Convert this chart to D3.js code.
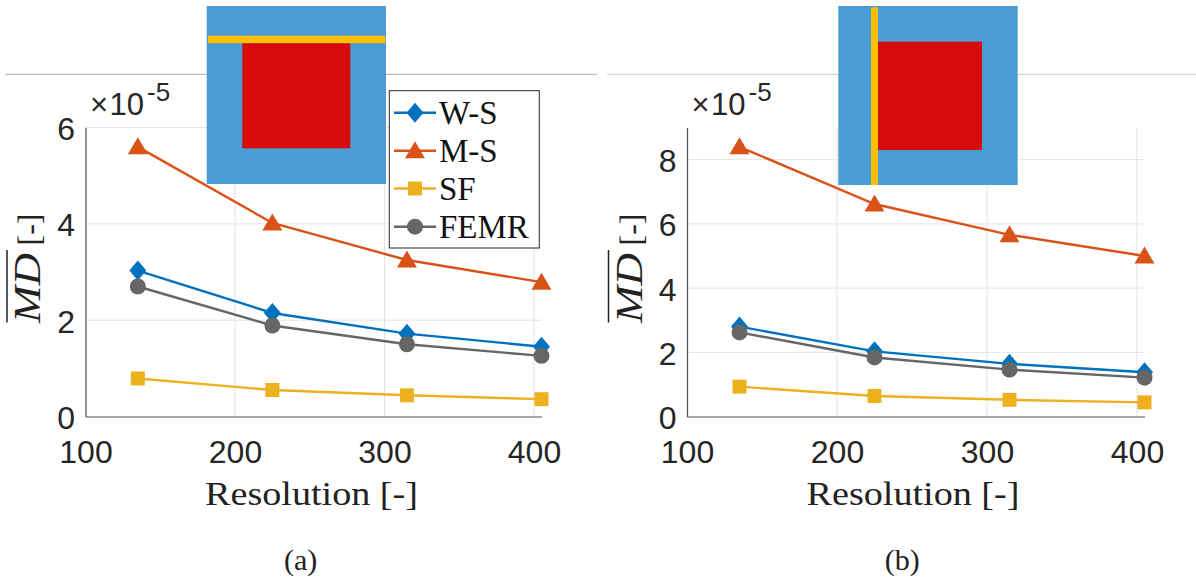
<!DOCTYPE html>
<html><head><meta charset="utf-8">
<script src="https://cdn.jsdelivr.net/npm/d3@7"></script>
<style>body{margin:0;background:#fff}svg{display:block}</style>
</head><body><svg id="c" width="1196" height="583"></svg>
<script>
// ---------- data ----------
const resolutions = [135, 225, 315, 405];
const seriesNames = ["W-S", "M-S", "SF", "FEMR"];
const seriesColors = ["#0072BD", "#D95319", "#EDB120", "#666666"];
const seriesMarkers = ["diamond", "triangle", "square", "circle"];
const xTicks = [100, 200, 300, 400];
const yTicksA = [0, 2, 4, 6];
const yTicksB = [0, 2, 4, 6, 8];
const panelA_WS = [3.03, 2.15, 1.72, 1.45];
const panelA_MS = [5.60, 4.02, 3.25, 2.79];
const panelA_SF = [0.79, 0.55, 0.44, 0.36];
const panelA_FEMR = [2.70, 1.89, 1.50, 1.26];
const panelB_WS = [2.80, 2.03, 1.64, 1.38];
const panelB_MS = [8.40, 6.62, 5.66, 5.00];
const panelB_SF = [0.93, 0.64, 0.52, 0.44];
const panelB_FEMR = [2.62, 1.84, 1.46, 1.21];
const captions = ["(a)", "(b)"];

const svg = d3.select("#c");
const SANS = "'Liberation Sans', Arial, sans-serif";
const SERIF = "'Liberation Serif', 'Times New Roman', serif";

function markerPath(type) {
  switch (type) {
    case "diamond": return "M0,-10L8.5,0L0,10L-8.5,0Z";
    case "triangle": return "M0,-9.5L10,7.5L-10,7.5Z";
    case "square": return "M-7,-7H7V7H-7Z";
    default: { const p = d3.path(); p.arc(0, 0, 8, 0, 2 * Math.PI); return p.toString(); }
  }
}

// separator lines at top
svg.append("line").attr("x1",5).attr("x2",597).attr("y1",74.3).attr("y2",74.3).attr("stroke","#bdbdbd").attr("stroke-width",1.2);
svg.append("line").attr("x1",607).attr("x2",1196).attr("y1",74.3).attr("y2",74.3).attr("stroke","#d6d6d6").attr("stroke-width",1.2);

function panel(opt) {
  const x = d3.scaleLinear().domain([100, 405]).range([opt.ax, opt.ax + 305 * opt.xs]);
  const y = d3.scaleLinear().domain([0, opt.ymax]).range([416.5, 127.6]);
  const g = svg.append("g");
  const [x0, x1] = x.range();
  // grid
  g.selectAll(".vg").data(xTicks.filter(d => d > 100)).join("line")
    .attr("x1", d => x(d)).attr("x2", d => x(d)).attr("y1", y(0)).attr("y2", y(opt.ymax))
    .attr("stroke", "#e3e3e3").attr("stroke-width", 1);
  g.selectAll(".hg").data(opt.yTicks.filter(d => d > 0)).join("line")
    .attr("x1", x0).attr("x2", x1).attr("y1", d => y(d)).attr("y2", d => y(d))
    .attr("stroke", "#e3e3e3").attr("stroke-width", 1);
  // axes
  const gx = g.append("g").attr("transform", `translate(0,${y(0)})`)
    .call(d3.axisBottom(x).tickValues(xTicks).tickSize(0).tickSizeOuter(0).tickFormat(d3.format("d")));
  gx.select(".domain").attr("stroke", "#505050").attr("stroke-width", 1.2);
  gx.selectAll("text").attr("y", 46).attr("dy", 0).attr("fill", "#262626")
    .style("font-family", SANS).style("font-size", "32px");
  const gy = g.append("g").attr("transform", `translate(${x0},0)`)
    .call(d3.axisLeft(y).tickValues(opt.yTicks).tickSize(0).tickSizeOuter(0).tickFormat(d3.format("d")));
  gy.select(".domain").attr("stroke", "#505050").attr("stroke-width", 1.2);
  gy.selectAll("text").attr("x", -10.5).attr("y", 12).attr("dy", 0).attr("fill", "#262626")
    .style("font-family", SANS).style("font-size", "32px");
  // exponent
  const ex = g.append("text").attr("fill", "#262626").style("font-family", SANS);
  ex.append("tspan").attr("x", x0 + 4.5).attr("y", 115).style("font-size", "31px").text("×");
  ex.append("tspan").attr("x", x0 + 24).attr("y", 115).style("font-size", "31px").text("10");
  ex.append("tspan").attr("x", x0 + 61.5).attr("y", 100.5).style("font-size", "26px").text("-5");
  // series
  opt.series.forEach((vals, i) => {
    const pts = vals.map((v, j) => [resolutions[j], v]);
    g.append("path").attr("d", d3.line().x(d => x(d[0])).y(d => y(d[1]))(pts))
      .attr("fill", "none").attr("stroke", seriesColors[i]).attr("stroke-width", 2.4);
    g.selectAll(null).data(pts).join("path")
      .attr("transform", d => `translate(${x(d[0])},${y(d[1])})`)
      .attr("d", markerPath(seriesMarkers[i])).attr("fill", seriesColors[i]);
  });
  // y label
  const yl = g.append("g").attr("transform", `translate(${x0 - 45.5},270.5) rotate(-90)`);
  yl.append("text").attr("x", -52.5).attr("y", 0).attr("textLength", 70).attr("lengthAdjust", "spacingAndGlyphs")
    .style("font-family", SERIF).style("font-style", "italic").style("font-size", "37px").attr("fill", "#222").text("MD");
  yl.append("line").attr("x1", -52).attr("x2", 20.5).attr("y1", -33).attr("y2", -33).attr("stroke", "#222").attr("stroke-width", 1.5);
  yl.append("text").attr("x", 25).attr("y", 0)
    .style("font-family", SERIF).style("font-size", "32px").attr("fill", "#222").text("[-]");
  // x label
  g.append("text").attr("x", x0 + 119.5).attr("y", 505).attr("textLength", 213).attr("lengthAdjust", "spacingAndGlyphs")
    .style("font-family", SERIF).style("font-size", "33px").attr("fill", "#222").text("Resolution [-]");
  // caption
  g.append("text").attr("x", x0 + 215.2).attr("y", 570).attr("text-anchor", "middle")
    .style("font-family", SERIF).style("font-size", "30px").attr("fill", "#222").text(opt.caption);
  return g;
}

panel({ ax: 85.5, xs: 1.495, ymax: 6, yTicks: yTicksA, caption: captions[0],
  series: [panelA_WS, panelA_MS, panelA_SF, panelA_FEMR] });
panel({ ax: 687, xs: 1.5, ymax: 9, yTicks: yTicksB, caption: captions[1],
  series: [panelB_WS, panelB_MS, panelB_SF, panelB_FEMR] });

// insets (geometry sketches)
const BLUE = "#4A9BD6", YEL = "#FFC000", RED = "#D90A0A";
const insA = svg.append("g");
insA.append("rect").attr("x", 206.7).attr("y", 6).attr("width", 179.3).attr("height", 178).attr("fill", BLUE);
insA.append("rect").attr("x", 208).attr("y", 35.7).attr("width", 177.3).attr("height", 7.6).attr("fill", YEL);
insA.append("rect").attr("x", 242.3).attr("y", 43.3).attr("width", 108).attr("height", 105).attr("fill", RED);
const insB = svg.append("g");
insB.append("rect").attr("x", 838.3).attr("y", 6).attr("width", 179.4).attr("height", 179).attr("fill", BLUE);
insB.append("rect").attr("x", 871).attr("y", 7.3).attr("width", 7).attr("height", 177.7).attr("fill", YEL);
insB.append("rect").attr("x", 878).attr("y", 41.7).attr("width", 104).attr("height", 108.3).attr("fill", RED);

// legend
const lg = svg.append("g");
lg.append("rect").attr("x", 389.3).attr("y", 90.7).attr("width", 150).attr("height", 157.3)
  .attr("fill", "#fff").attr("stroke", "#262626").attr("stroke-width", 1);
const legY = [112.7, 150.7, 188.5, 226.7];
seriesNames.forEach((n, i) => {
  lg.append("line").attr("x1", 394).attr("x2", 436).attr("y1", legY[i]).attr("y2", legY[i])
    .attr("stroke", seriesColors[i]).attr("stroke-width", 2.4);
  lg.append("path").attr("transform", `translate(415,${legY[i]})`).attr("d", markerPath(seriesMarkers[i])).attr("fill", seriesColors[i]);
  lg.append("text").attr("x", 439).attr("y", legY[i] + 11)
    .style("font-family", SERIF).style("font-size", "33px").attr("fill", "#111").text(n);
});
</script></body></html>
